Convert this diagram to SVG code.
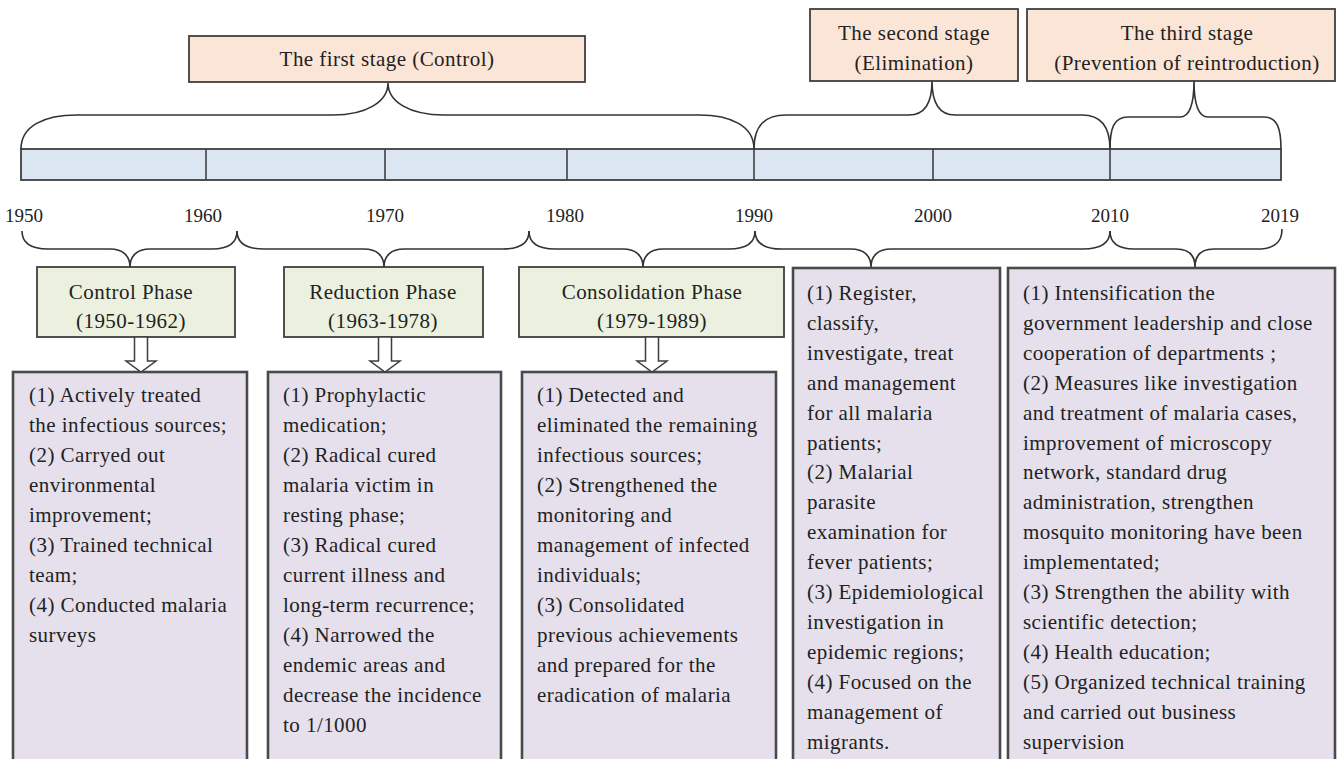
<svg xmlns="http://www.w3.org/2000/svg" width="1338" height="759" viewBox="0 0 1338 759">
<style>
text{font-family:"Liberation Serif","Times New Roman",serif;fill:#222;font-size:21px;letter-spacing:0.45px}
.c{text-anchor:middle}
.yr{font-size:19px;letter-spacing:0;text-anchor:middle}
.stage{fill:#fbe5d6;stroke:#3f3f3f;stroke-width:1.8}
.phase{fill:#ebf1de;stroke:#3f3f3f;stroke-width:1.8}
.box{fill:#e5e0ec;stroke:#4a4a4a;stroke-width:2.6}
.bar{fill:#dce6f2;stroke:#3f3f3f;stroke-width:1.8}
.tick{stroke:#3f3f3f;stroke-width:1.6}
.brace{fill:none;stroke:#333;stroke-width:1.6}
.arrow{fill:#fff;stroke:#3f3f3f;stroke-width:1.5}
</style>
<rect width="1338" height="759" fill="#fff"/>

<g id="timeline">
<rect class="bar" x="21" y="149" width="1260" height="31"/>
<line class="tick" x1="206" y1="149" x2="206" y2="180"/>
<line class="tick" x1="385" y1="149" x2="385" y2="180"/>
<line class="tick" x1="567" y1="149" x2="567" y2="180"/>
<line class="tick" x1="754" y1="149" x2="754" y2="180"/>
<line class="tick" x1="933" y1="149" x2="933" y2="180"/>
<line class="tick" x1="1110" y1="149" x2="1110" y2="180"/>
<text class="yr" x="24" y="222">1950</text>
<text class="yr" x="203" y="222">1960</text>
<text class="yr" x="385" y="222">1970</text>
<text class="yr" x="565" y="222">1980</text>
<text class="yr" x="754" y="222">1990</text>
<text class="yr" x="933" y="222">2000</text>
<text class="yr" x="1110" y="222">2010</text>
<text class="yr" x="1280" y="222">2019</text>
</g>

<g id="stage1">
<rect class="stage" x="189" y="36" width="396" height="46"/>
<text class="c" x="387" y="66">The first stage (Control)</text>
</g>
<g id="stage2">
<rect class="stage" x="810" y="9" width="208" height="72"/>
<text class="c" x="914" y="40">The second stage</text>
<text class="c" x="914" y="70">(Elimination)</text>
</g>
<g id="stage3">
<rect class="stage" x="1027" y="9" width="308" height="72"/>
<text class="c" x="1187" y="40">The third stage</text>
<text class="c" x="1187" y="70">(Prevention of reintroduction)</text>
</g>

<g id="phase1">
<rect class="phase" x="37" y="267" width="198" height="70"/>
<text class="c" x="131" y="299">Control Phase</text>
<text class="c" x="131" y="328">(1950-1962)</text>
</g>
<g id="phase2">
<rect class="phase" x="284" y="267" width="199" height="70"/>
<text class="c" x="383" y="299">Reduction Phase</text>
<text class="c" x="383" y="328">(1963-1978)</text>
</g>
<g id="phase3">
<rect class="phase" x="519" y="267" width="265" height="70"/>
<text class="c" x="652" y="299">Consolidation Phase</text>
<text class="c" x="652" y="328">(1979-1989)</text>
</g>

<g id="content1">
<rect class="box" x="13" y="372" width="234" height="400"/>
<text x="29" y="402">(1) Actively treated</text>
<text x="29" y="432">the infectious sources;</text>
<text x="29" y="462">(2) Carryed out</text>
<text x="29" y="492">environmental</text>
<text x="29" y="522">improvement;</text>
<text x="29" y="552">(3) Trained technical</text>
<text x="29" y="582">team;</text>
<text x="29" y="612">(4) Conducted malaria</text>
<text x="29" y="642">surveys</text>
</g>
<g id="content2">
<rect class="box" x="268" y="372" width="233" height="400"/>
<text x="283" y="402">(1) Prophylactic</text>
<text x="283" y="432">medication;</text>
<text x="283" y="462">(2) Radical cured</text>
<text x="283" y="492">malaria victim in</text>
<text x="283" y="522">resting phase;</text>
<text x="283" y="552">(3) Radical cured</text>
<text x="283" y="582">current illness and</text>
<text x="283" y="612">long-term recurrence;</text>
<text x="283" y="642">(4) Narrowed the</text>
<text x="283" y="672">endemic areas and</text>
<text x="283" y="702">decrease the incidence</text>
<text x="283" y="732">to 1/1000</text>
</g>
<g id="content3">
<rect class="box" x="522" y="372" width="254" height="400"/>
<text x="537" y="402">(1) Detected and</text>
<text x="537" y="432">eliminated the remaining</text>
<text x="537" y="462">infectious sources;</text>
<text x="537" y="492">(2) Strengthened the</text>
<text x="537" y="522">monitoring and</text>
<text x="537" y="552">management of infected</text>
<text x="537" y="582">individuals;</text>
<text x="537" y="612">(3) Consolidated</text>
<text x="537" y="642">previous achievements</text>
<text x="537" y="672">and prepared for the</text>
<text x="537" y="702">eradication of malaria</text>
</g>
<g id="content4">
<rect class="box" x="793" y="268" width="207" height="504"/>
<text x="807" y="300">(1) Register,</text>
<text x="807" y="329.9">classify,</text>
<text x="807" y="359.8">investigate, treat</text>
<text x="807" y="389.7">and management</text>
<text x="807" y="419.6">for all malaria</text>
<text x="807" y="449.5">patients;</text>
<text x="807" y="479.4">(2) Malarial</text>
<text x="807" y="509.3">parasite</text>
<text x="807" y="539.2">examination for</text>
<text x="807" y="569.1">fever patients;</text>
<text x="807" y="599">(3) Epidemiological</text>
<text x="807" y="628.9">investigation in</text>
<text x="807" y="658.8">epidemic regions;</text>
<text x="807" y="688.7">(4) Focused on the</text>
<text x="807" y="718.6">management of</text>
<text x="807" y="748.5">migrants.</text>
</g>
<g id="content5">
<rect class="box" x="1008" y="268" width="327" height="504"/>
<text x="1023" y="300">(1) Intensification the</text>
<text x="1023" y="329.9">government leadership and close</text>
<text x="1023" y="359.8">cooperation of departments ;</text>
<text x="1023" y="389.7">(2) Measures like investigation</text>
<text x="1023" y="419.6">and treatment of malaria cases,</text>
<text x="1023" y="449.5">improvement of microscopy</text>
<text x="1023" y="479.4">network, standard drug</text>
<text x="1023" y="509.3">administration, strengthen</text>
<text x="1023" y="539.2">mosquito monitoring have been</text>
<text x="1023" y="569.1">implementated;</text>
<text x="1023" y="599">(3) Strengthen the ability with</text>
<text x="1023" y="628.9">scientific detection;</text>
<text x="1023" y="658.8">(4) Health education;</text>
<text x="1023" y="688.7">(5) Organized technical training</text>
<text x="1023" y="718.6">and carried out business</text>
<text x="1023" y="748.5">supervision</text>
</g>

<g id="connectors">
<!-- upper braces -->
<path class="brace" d="M21,149 C21,126 44,115 77,115 L333,115 C366,115 388,102 388,83 C388,102 410,115 444,115 L699,115 C731,115 754,126 754,149"/>
<path class="brace" d="M754,149 C754,126 764,115 786,115 L909,115 C925,115 932,102 932,81 C932,102 939,115 955,115 L1082,115 C1100,115 1110,126 1110,149"/>
<path class="brace" d="M1110,149 C1110,128 1114,117 1128,117 L1180,117 C1190,117 1194,102 1194,81 C1194,102 1198,117 1208,117 L1264,117 C1277,117 1281,128 1281,149"/>
<!-- lower braces -->
<path class="brace" d="M22,231 C22,243 30,249 48,249 L110,249 C123,249 130,256 130,267 C130,256 137,249 150,249 L212,249 C229,249 237,243 237,231"/>
<path class="brace" d="M237,231 C237,243 246,249 264,249 L364,249 C377,249 384,256 384,267 C384,256 391,249 404,249 L503,249 C520,249 529,243 529,231"/>
<path class="brace" d="M529,231 C529,243 538,249 555,249 L623,249 C636,249 643,256 643,267 C643,256 650,249 663,249 L729,249 C746,249 755,243 755,231"/>
<path class="brace" d="M755,231 C755,243 764,249 782,249 L851,249 C864,249 871,256 871,267 C871,256 878,249 891,249 L1083,249 C1101,249 1110,243 1110,231"/>
<path class="brace" d="M1110,231 C1110,243 1118,249 1134,249 L1176,249 C1189,249 1195,256 1195,267 C1195,256 1201,249 1214,249 L1257,249 C1274,249 1282,243 1282,229"/>
<!-- block arrows -->
<path class="arrow" d="M134.5,337 L147.5,337 L147.5,361 L156,361 L141,372 L126,361 L134.5,361 Z"/>
<path class="arrow" d="M378.5,337 L391.5,337 L391.5,361 L400,361 L385,372 L370,361 L378.5,361 Z"/>
<path class="arrow" d="M645.5,337 L658.5,337 L658.5,361 L667,361 L652,372 L637,361 L645.5,361 Z"/>
</g>
</svg>
